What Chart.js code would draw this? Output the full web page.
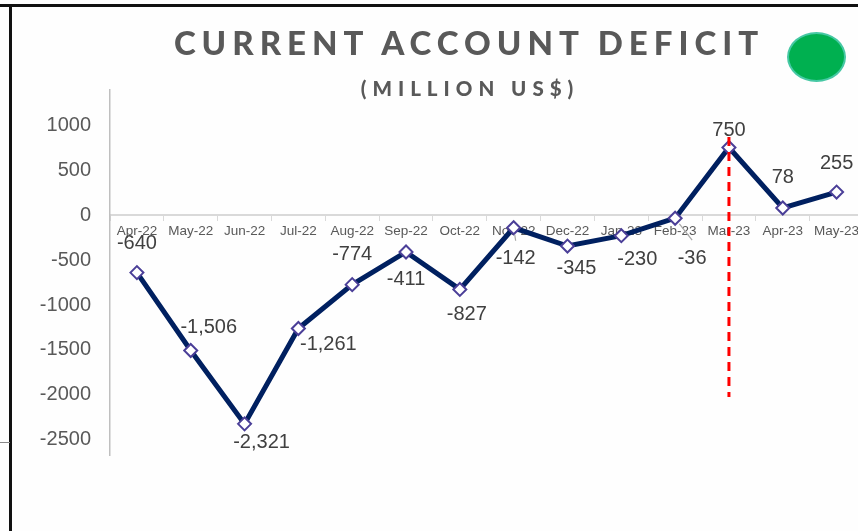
<!DOCTYPE html>
<html>
<head>
<meta charset="utf-8">
<script src="https://cdn.jsdelivr.net/npm/chart.js@4"></script>
<style>
  html, body { margin: 0; padding: 0; overflow: hidden; background: #fefefe; }
  #wrap { position: relative; width: 858px; height: 531px; overflow: hidden; }
  #chart { position: absolute; left: 0; top: 0; }
  .title {
    position: absolute; left: 0; top: 22px; width: 938px; text-align: center;
    font-family: Lato, "DejaVu Sans", sans-serif; font-weight: 900; font-size: 33px;
    letter-spacing: 6px; color: #595959; line-height: 40px;
  }
  .subtitle {
    position: absolute; left: 0; top: 75px; width: 940px; text-align: center;
    font-family: Lato, "DejaVu Sans", sans-serif; font-weight: 900; font-size: 20.5px;
    letter-spacing: 6px; color: #595959; line-height: 26px;
  }
  .dot {
    position: absolute; left: 787px; top: 32px; width: 59px; height: 50px; box-sizing: border-box;
    border-radius: 50%; background: #00b050; border: 2px solid #46c8a4;
  }
  .frame-top { position: absolute; left: 0; top: 4px; width: 858px; height: 3px; background: #111; }
  .frame-left { position: absolute; left: 9px; top: 4px; width: 3px; height: 527px; background: #111; }
  .stub { position: absolute; left: 0; top: 442px; width: 10px; height: 1px; background: #888; }
</style>
</head>
<body>
<div id="wrap">
  <canvas id="chart" width="872" height="531"></canvas>
  <div class="frame-top"></div>
  <div class="frame-left"></div>
  <div class="stub"></div>
  <div class="title">CURRENT ACCOUNT DEFICIT</div>
  <div class="subtitle">(MILLION US$)</div>
  <div class="dot"></div>
</div>
<script>
const months = ['Apr-22', 'May-22', 'Jun-22', 'Jul-22', 'Aug-22', 'Sep-22', 'Oct-22',
  'Nov-22', 'Dec-22', 'Jan-23', 'Feb-23', 'Mar-23', 'Apr-23', 'May-23'];
const deficit = [-640, -1506, -2321, -1261, -774, -411, -827, -142, -345, -230, -36, 750, 78, 255];
const yTicks = [-2500, -2000, -1500, -1000, -500, 0, 500, 1000];
const yMin = -2667;
const yMax = 1389;

// label placement (offset of label centre from its point, px)
const labelDx = [0, 18, 17, 30, 0, 0, 7, 2, 9, 16, 17, 0, 0, 0];
const labelDy = [-29, -23, 19, 16, -30, 28, 25, 31, 22, 24, 40, -17, -30, -29];
const leaderIdx = [7, 10];

// red dashed marker at Mar-23
const markerMonth = 'Mar-23';
const markerFrom = -2022;
const markerTo = 867;

const fmt = v => v.toLocaleString('en-US');

const overlay = {
  id: 'overlay',
  afterDatasetsDraw(chart) {
    const ctx = chart.ctx;
    const meta = chart.getDatasetMeta(0);
    const xs = chart.scales.x, ys = chart.scales.y;

    // leader lines
    ctx.save();
    ctx.strokeStyle = '#a6a6a6';
    ctx.lineWidth = 1.2;
    leaderIdx.forEach(i => {
      const p = meta.data[i];
      const lx = p.x + labelDx[i], ly = p.y + labelDy[i] - 18;
      const ang = Math.atan2(ly - p.y, lx - p.x);
      ctx.beginPath();
      ctx.moveTo(p.x + Math.cos(ang) * 7, p.y + Math.sin(ang) * 7);
      ctx.lineTo(lx, ly);
      ctx.stroke();
    });
    ctx.restore();

    // data labels
    ctx.save();
    ctx.font = '20px "Liberation Sans", Arial, sans-serif';
    ctx.fillStyle = '#404040';
    ctx.textAlign = 'center';
    ctx.textBaseline = 'middle';
    meta.data.forEach((p, i) => {
      ctx.fillText(fmt(deficit[i]), p.x + labelDx[i], p.y + labelDy[i]);
    });
    ctx.restore();

    // dashed marker line
    const mx = xs.getPixelForValue(months.indexOf(markerMonth));
    ctx.save();
    ctx.strokeStyle = '#ff0000';
    ctx.lineWidth = 3;
    ctx.setLineDash([9, 6]);
    ctx.beginPath();
    ctx.moveTo(mx, ys.getPixelForValue(markerTo));
    ctx.lineTo(mx, ys.getPixelForValue(markerFrom));
    ctx.stroke();
    ctx.restore();
  }
};

new Chart(document.getElementById('chart'), {
  type: 'line',
  data: {
    labels: months,
    datasets: [{
      data: deficit,
      borderColor: '#002060',
      borderWidth: 5,
      tension: 0,
      pointStyle: 'rectRot',
      pointRadius: 6.5,
      pointBorderWidth: 2,
      pointBorderColor: '#4b3f98',
      pointBackgroundColor: '#ffffff'
    }]
  },
  options: {
    responsive: false,
    animation: false,
    devicePixelRatio: 1,
    layout: { padding: { top: 90, bottom: 76, left: 0, right: 0 } },
    plugins: { legend: { display: false }, tooltip: { enabled: false } },
    scales: {
      x: {
        position: { y: 0 },
        offset: true,
        afterFit: s => { s.height = 0; },
        grid: { drawOnChartArea: false, drawTicks: true, tickLength: 5, color: '#d9d9d9', offset: true },
        border: { display: true, color: '#d9d9d9', width: 2 },
        ticks: {
          autoSkip: false, maxRotation: 0, padding: 3, color: '#595959',
          font: { family: '"Liberation Sans", Arial, sans-serif', size: 13.5 }
        }
      },
      y: {
        min: yMin,
        max: yMax,
        afterFit: s => { s.width = 110; },
        afterBuildTicks: s => { s.ticks = yTicks.map(v => ({ value: v })); },
        grid: { drawOnChartArea: false, drawTicks: false },
        border: { display: true, color: '#bfbfbf', width: 1.5 },
        ticks: {
          padding: 19, color: '#595959',
          callback: v => String(v),
          font: { family: '"Liberation Sans", Arial, sans-serif', size: 20 }
        }
      }
    }
  },
  plugins: [overlay]
});
</script>
</body>
</html>
